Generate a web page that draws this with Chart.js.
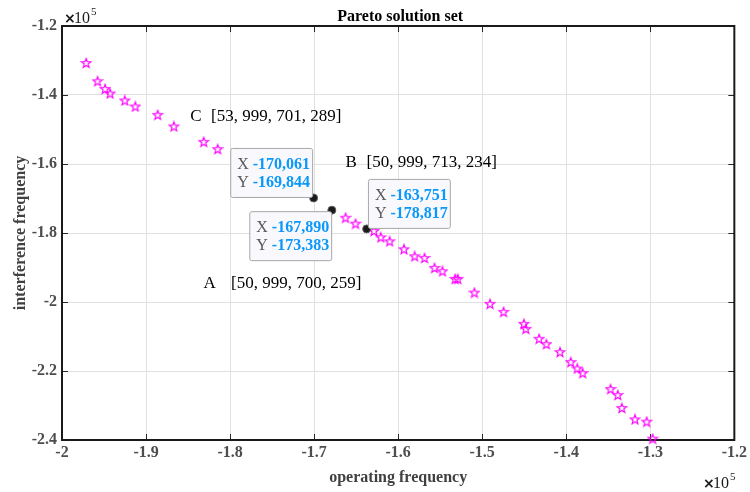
<!DOCTYPE html>
<html>
<head>
<meta charset="utf-8">
<title>Pareto solution set</title>
<script src="https://cdn.jsdelivr.net/npm/chart.js@4.4.1/dist/chart.umd.min.js"></script>
<style>
    body { margin: 0; background: #fff; }
    #wrap { width: 750px; height: 492px; }
</style>
</head>
<body>
<div id="wrap"><canvas id="myChart" width="750" height="492"></canvas></div>
<script>
// pareto front (stars)
const xStar = [-197120, -195770, -194870, -194280, -192530, -191270, -188620, -186690, -183140, -181480,
    -166260, -165070, -162870, -162070, -161010, -159310, -158040, -156860, -155670, -154730,
    -153220, -152910, -150930, -149070, -147460, -145040, -144810, -143230, -142360, -140740,
    -139470, -138690, -138050, -134730, -133870, -133390, -131820, -130430, -129720];
const yStar = [-130710, -136000, -138230, -139560, -141590, -143330, -145760, -149110, -153570, -155680,
    -175570, -177300, -179410, -181240, -182400, -184710, -186740, -187230, -190120, -191080,
    -193310, -193310, -197270, -200540, -202860, -206330, -207780, -210670, -212200, -214520,
    -217410, -219260, -220600, -225230, -226960, -230720, -234020, -234690, -239610];

// picked solutions (data tips)
const xPick = [-170061, -167890, -163751];
const yPick = [-169844, -173383, -178817];
const tipSide = ['nw', 'sw', 'ne'];

// tick values and labels
const xTickVals = [-200000, -190000, -180000, -170000, -160000, -150000, -140000, -130000, -120000];
const xTickLabels = ['-2', '-1.9', '-1.8', '-1.7', '-1.6', '-1.5', '-1.4', '-1.3', '-1.2'];
const yTickVals = [-240000, -220000, -200000, -180000, -160000, -140000, -120000];
const yTickLabels = ['-2.4', '-2.2', '-2', '-1.8', '-1.6', '-1.4', '-1.2'];

// text notes (letter, bracket text, anchor in data units)
const noteLetters = ['C', 'B', 'A'];
const noteTexts = ['[53, 999, 701, 289]', '[50, 999, 713, 234]', '[50, 999, 700, 259]'];
const noteX1 = [-184750, -166260, -183170];
const noteX2 = [-182260, -163770, -179890];
const noteY = [-146130, -159530, -194550];

const SERIF = '"Liberation Serif", "Times New Roman", serif';

function makeStar() {
    const c = document.createElement('canvas');
    c.width = 12; c.height = 12;
    const g = c.getContext('2d');
    g.strokeStyle = '#ff00ff';
    g.lineWidth = 1.15;
    g.beginPath();
    for (let i = 0; i < 10; i++) {
        const r = (i % 2) ? 2.0 : 4.9;
        const a = -Math.PI / 2 + i * Math.PI / 5;
        const px = 6 + r * Math.cos(a), py = 6.4 + r * Math.sin(a);
        if (i === 0) g.moveTo(px, py); else g.lineTo(px, py);
    }
    g.closePath();
    g.stroke();
    return c;
}

const starPts = xStar.map((x, i) => ({ x: x, y: yStar[i] }));
const pickPts = xPick.map((x, i) => ({ x: x, y: yPick[i] }));

const framePlugin = {
    id: 'frame',
    beforeDatasetsDraw(chart) {
        const { ctx, chartArea: a, scales } = chart;
        ctx.save();
        ctx.strokeStyle = '#262626';
        ctx.lineWidth = 1;
        ctx.beginPath();
        xTickVals.forEach(v => {
            const p = Math.round(scales.x.getPixelForValue(v)) + 0.5;
            ctx.moveTo(p, a.bottom); ctx.lineTo(p, a.bottom - 6);
            ctx.moveTo(p, a.top); ctx.lineTo(p, a.top + 6);
        });
        yTickVals.forEach(v => {
            const p = Math.round(scales.y.getPixelForValue(v)) + 0.5;
            ctx.moveTo(a.left, p); ctx.lineTo(a.left + 6, p);
            ctx.moveTo(a.right, p); ctx.lineTo(a.right - 6, p);
        });
        ctx.stroke();
        ctx.strokeStyle = '#1a1a1a';
        ctx.lineWidth = 2;
        ctx.strokeRect(a.left, a.top, a.right - a.left, a.bottom - a.top);
        ctx.restore();
    },
    afterDraw(chart) {
        const { ctx, chartArea: a, scales } = chart;
        ctx.save();
        // title
        ctx.fillStyle = '#000';
        ctx.font = 'bold 16px ' + SERIF;
        ctx.textAlign = 'center';
        ctx.textBaseline = 'middle';
        ctx.fillText('Pareto solution set', (a.left + a.right) / 2 + 2, 16.5);

        // exponent labels
        function expo(x, y) {
            ctx.textAlign = 'left';
            ctx.textBaseline = 'alphabetic';
            ctx.fillStyle = '#1a1a1a';
            ctx.font = 'bold 14px "DejaVu Sans", sans-serif';
            ctx.fillText('\u00d7', x, y);
            ctx.font = '16px ' + SERIF;
            ctx.fillText('10', x + 10, y);
            ctx.font = '11px ' + SERIF;
            ctx.fillText('5', x + 27, y - 8);
        }
        expo(64, 23);
        expo(703, 488);

        // text notes
        ctx.fillStyle = '#000';
        ctx.font = '17px ' + SERIF;
        ctx.textAlign = 'left';
        ctx.textBaseline = 'middle';
        noteLetters.forEach((l, i) => {
            const y = scales.y.getPixelForValue(noteY[i]);
            ctx.fillText(l, scales.x.getPixelForValue(noteX1[i]), y);
            ctx.fillText(noteTexts[i], scales.x.getPixelForValue(noteX2[i]), y);
        });

        // data tips
        xPick.forEach((xv, i) => {
            const px = scales.x.getPixelForValue(xv);
            const py = scales.y.getPixelForValue(yPick[i]);
            const sx = xv.toLocaleString('en-US');
            const sy = yPick[i].toLocaleString('en-US');
            ctx.font = '16px ' + SERIF;
            const wl = ctx.measureText('X ').width;
            ctx.font = 'bold 16px ' + SERIF;
            const wv = Math.max(ctx.measureText(sx).width, ctx.measureText(sy).width);
            const w = 7 + wl + wv + 2;
            const h = 49;
            let bx, by;
            if (tipSide[i] === 'nw') { bx = px - 1.5 - w; by = py - 1 - h; }
            else if (tipSide[i] === 'sw') { bx = px - 0.7 - w; by = py + 1; }
            else { bx = px + 1.3; by = py - 1 - h; }
            ctx.beginPath();
            ctx.roundRect(bx + 0.5, by + 0.5, w, h, 2);
            ctx.fillStyle = '#f8f8fd';
            ctx.fill();
            ctx.strokeStyle = '#a8a8a8';
            ctx.lineWidth = 1;
            ctx.stroke();
            ctx.textBaseline = 'middle';
            ctx.textAlign = 'left';
            [['X', sx, 16.7], ['Y', sy, 35]].forEach(r => {
                ctx.font = '16px ' + SERIF;
                ctx.fillStyle = '#595959';
                ctx.fillText(r[0], bx + 7, by + r[2]);
                ctx.font = 'bold 16px ' + SERIF;
                ctx.fillStyle = '#0a98fa';
                ctx.fillText(r[1], bx + 7 + wl, by + r[2]);
            });
        });
        ctx.restore();
    }
};

const ctx = document.getElementById('myChart');
const myChart = new Chart(ctx, {
    type: 'scatter',
    data: {
        datasets: [{
            label: 'pareto',
            data: starPts,
            pointStyle: makeStar(),
            pointRadius: 5,
            clip: false,
            order: 2
        }, {
            label: 'picked',
            data: pickPts,
            pointStyle: 'circle',
            pointRadius: 4,
            backgroundColor: '#1a1a1a',
            borderColor: '#606060',
            borderWidth: 1,
            clip: false,
            order: 1
        }]
    },
    plugins: [framePlugin],
    options: {
        responsive: false,
        animation: false,
        events: [],
        layout: { padding: { left: 0, right: 13, top: 26, bottom: 0 } },
        plugins: {
            legend: { display: false },
            tooltip: { enabled: false }
        },
        scales: {
            x: {
                type: 'linear',
                min: -200000,
                max: -120000,
                afterBuildTicks: s => { s.ticks = xTickVals.map(v => ({ value: v })); },
                afterFit: s => { s.height = 52; },
                ticks: {
                    callback: (v, i) => xTickLabels[i],
                    font: { family: SERIF, size: 16, weight: 'bold' },
                    color: '#4d4d4d',
                    padding: 3,
                    maxRotation: 0,
                    autoSkip: false
                },
                grid: { color: '#e0e0e0', drawTicks: false },
                border: { display: false },
                title: {
                    display: true,
                    text: 'operating frequency',
                    font: { family: SERIF, size: 16, weight: 'bold' },
                    color: '#404040',
                    padding: { top: 0, bottom: 5 }
                }
            },
            y: {
                type: 'linear',
                min: -240000,
                max: -120000,
                afterBuildTicks: s => { s.ticks = yTickVals.map(v => ({ value: v })); },
                afterFit: s => { s.width = 62; },
                ticks: {
                    callback: (v, i) => yTickLabels[i],
                    font: { family: SERIF, size: 16, weight: 'bold' },
                    color: '#4d4d4d',
                    padding: 5,
                    autoSkip: false
                },
                grid: { color: '#e0e0e0', drawTicks: false },
                border: { display: false },
                title: {
                    display: true,
                    text: 'interference frequency',
                    font: { family: SERIF, size: 16, weight: 'bold' },
                    color: '#404040',
                    padding: { top: 11, bottom: 0 }
                }
            }
        }
    }
});
</script>
</body>
</html>
